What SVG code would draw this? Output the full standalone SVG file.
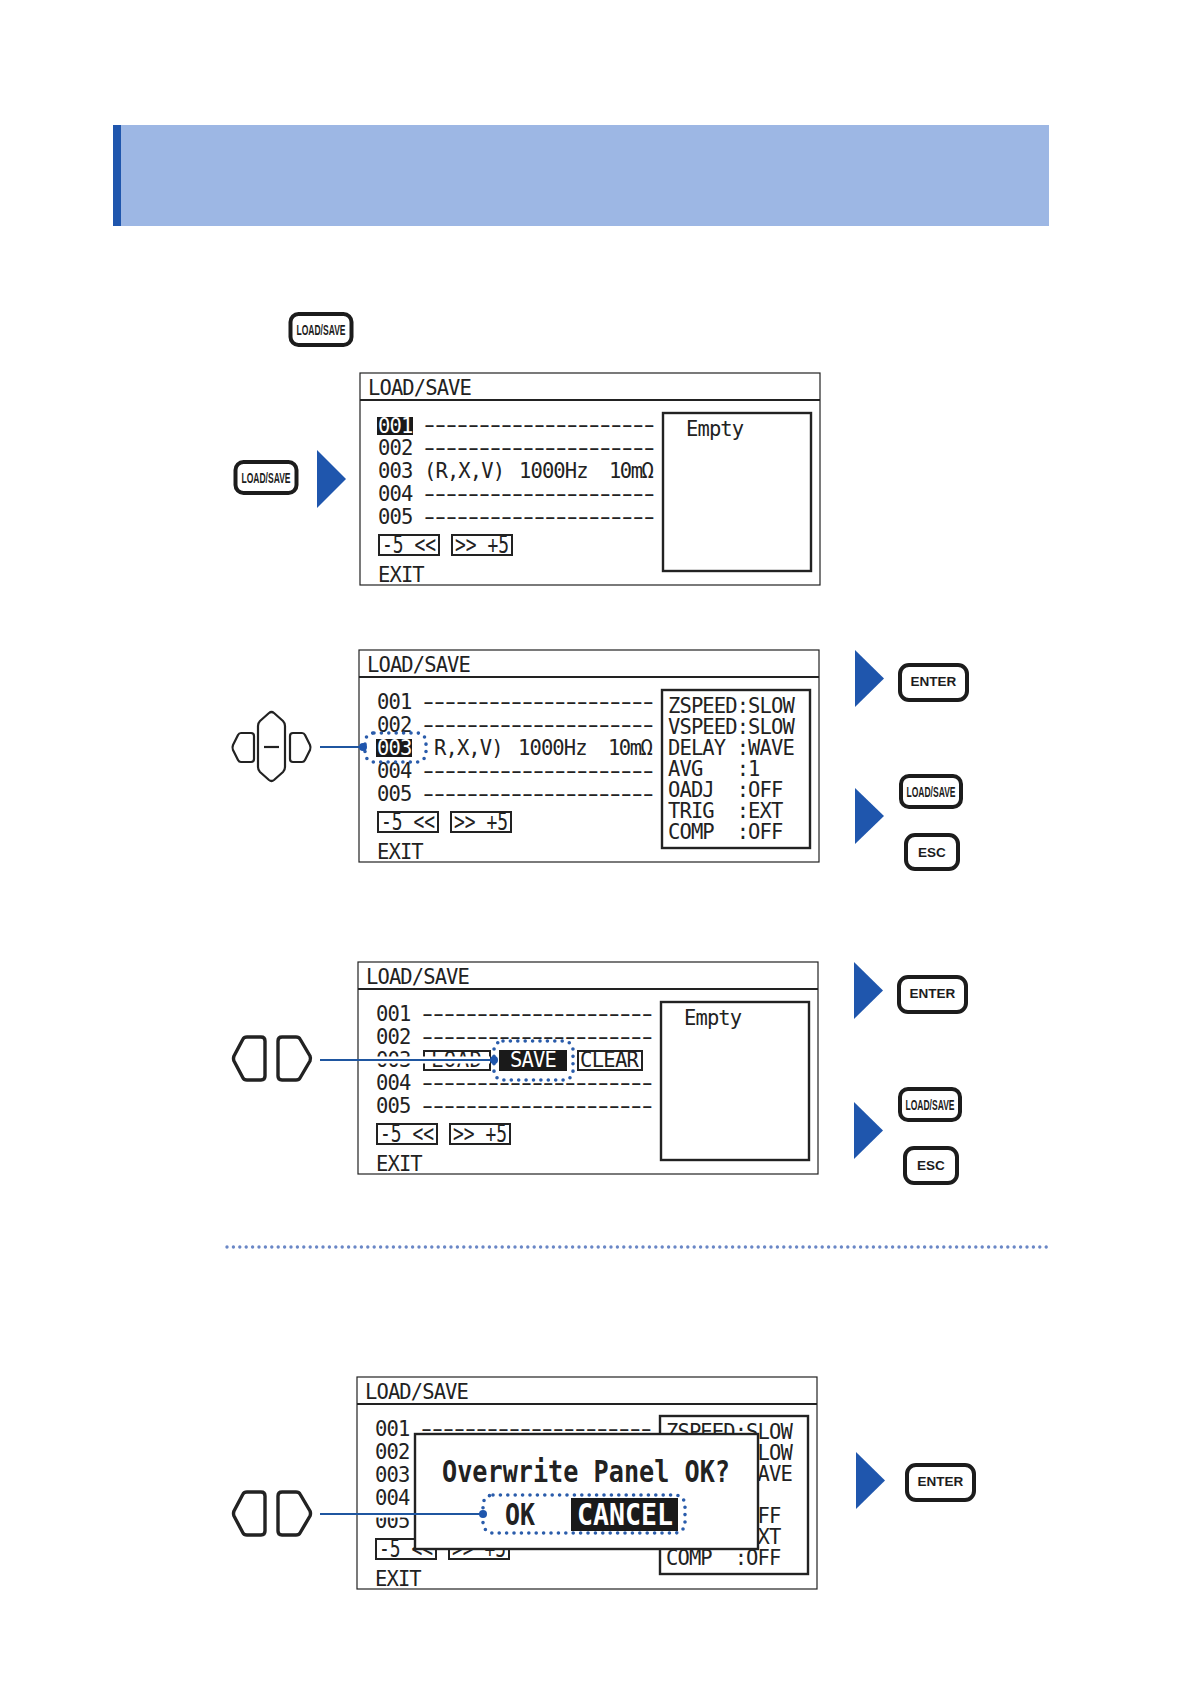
<svg xmlns="http://www.w3.org/2000/svg" width="1191" height="1684" viewBox="0 0 1191 1684">
<style>
text{font-family:"DejaVu Sans Mono","Liberation Mono",monospace;font-size:20.500px;letter-spacing:-.9px;fill:#222;white-space:pre}
.w{fill:#fff}
.dash{font-family:"Liberation Sans",Arial,sans-serif;font-size:33px;letter-spacing:0}
.btn{font-size:24px;letter-spacing:0}
.big{font-size:30px;font-weight:700;letter-spacing:0}
.pf{fill:#fff;stroke:#222;stroke-width:1.2}
.hl{stroke:#222;stroke-width:2.2}
.box{fill:#fff;stroke:#222;stroke-width:2.4}
.bb{fill:#fff;stroke:#222;stroke-width:2}
.k{fill:#fff;stroke:#1c1c1c;stroke-width:4}
.kt{font-family:"Liberation Sans",Arial,sans-serif;font-weight:700;text-anchor:middle;fill:#1c1c1c;font-size:13.500px;letter-spacing:0}
.kl{font-size:14.500px}
.a{fill:#1f56ad}
.pad{fill:#fff;stroke:#222;stroke-width:2.2;stroke-linejoin:round}
.pad3{fill:#fff;stroke:#222;stroke-width:3.4;stroke-linejoin:round}
.dot{fill:#fff;stroke:#2a5cab;stroke-width:3.6;stroke-dasharray:0 7.4;stroke-linecap:round}
.dotn{fill:none;stroke:#2a5cab;stroke-width:3.6;stroke-dasharray:0 7.4;stroke-linecap:round}
.lead{stroke:#1f56a0;stroke-width:2;fill:none}
.halo{stroke:#fff;stroke-width:7;fill:none}
.d{fill:#1f56ad}
</style>
<g id="header"><rect x="113" y="125" width="936" height="101" fill="#9db7e4"/><rect x="113" y="125" width="8" height="101" fill="#1f56ad"/></g>
<g id="key-top"><rect class="k" x="290.500" y="314" width="61" height="31" rx="8"/><text class="kt kl" x="321" y="335" textLength="49" lengthAdjust="spacingAndGlyphs">LOAD/SAVE</text></g>

<g id="panel1" transform="translate(360 373)">
<rect class="pf" width="460" height="212"/><line class="hl" x1="0" y1="27" x2="460" y2="27"/>
<text x="8" y="22">LOAD/SAVE</text>
<rect x="17" y="44" width="36" height="18" fill="#1a1a1a"/><text class="w" x="18" y="60">001</text><text class="dash" transform="translate(64 59) scale(1 .65)">---------------------</text>
<text x="18" y="82">002</text><text class="dash" transform="translate(64 82) scale(1 .65)">---------------------</text>
<text x="18" y="105">003</text><text x="64" y="105">(R,X,V)</text><text x="159" y="105">1000Hz</text><text x="249" y="105" textLength="44">10mΩ</text>
<text x="18" y="128">004</text><text class="dash" transform="translate(64 128) scale(1 .65)">---------------------</text>
<text x="18" y="151">005</text><text class="dash" transform="translate(64 151) scale(1 .65)">---------------------</text>
<rect class="bb" x="19" y="162" width="60" height="20"/><text class="btn" x="22" y="180" textLength="54" lengthAdjust="spacingAndGlyphs">-5 &lt;&lt;</text>
<rect class="bb" x="92" y="162" width="60" height="20"/><text class="btn" x="95" y="180" textLength="54" lengthAdjust="spacingAndGlyphs">&gt;&gt; +5</text>
<text x="18" y="209">EXIT</text>
<rect class="box" x="303" y="40" width="148" height="158"/><text x="326" y="63">Empty</text>
</g>
<g id="key-load1"><rect class="k" x="235.500" y="462" width="61" height="31" rx="8"/><text class="kt kl" x="266" y="483" textLength="49" lengthAdjust="spacingAndGlyphs">LOAD/SAVE</text></g>
<polygon class="a" points="317,450 346,479 317,508"/>

<g id="panel2" transform="translate(359 650)">
<rect class="pf" width="460" height="212"/><line class="hl" x1="0" y1="27" x2="460" y2="27"/>
<text x="8" y="22">LOAD/SAVE</text>
<text x="18" y="59">001</text><text class="dash" transform="translate(64 59) scale(1 .65)">---------------------</text>
<text x="18" y="82">002</text><text class="dash" transform="translate(64 82) scale(1 .65)">---------------------</text>
<text x="18" y="128">004</text><text class="dash" transform="translate(64 128) scale(1 .65)">---------------------</text>
<text x="18" y="151">005</text><text class="dash" transform="translate(64 151) scale(1 .65)">---------------------</text>
<rect class="dot" x="6" y="83" width="61" height="29" rx="9"/>
<rect x="17" y="89" width="36" height="18" fill="#1a1a1a"/><text class="w" x="18" y="105">003</text>
<text x="75" y="105">R,X,V)</text><text x="159" y="105">1000Hz</text><text x="249" y="105" textLength="44">10mΩ</text>
<rect class="bb" x="19" y="162" width="60" height="20"/><text class="btn" x="22" y="180" textLength="54" lengthAdjust="spacingAndGlyphs">-5 &lt;&lt;</text>
<rect class="bb" x="92" y="162" width="60" height="20"/><text class="btn" x="95" y="180" textLength="54" lengthAdjust="spacingAndGlyphs">&gt;&gt; +5</text>
<text x="18" y="209">EXIT</text>
<rect class="box" x="303" y="40" width="148" height="158"/>
<text x="309" y="63">ZSPEED:SLOW</text><text x="309" y="84">VSPEED:SLOW</text><text x="309" y="105">DELAY :WAVE</text><text x="309" y="126">AVG   :1</text><text x="309" y="147">OADJ  :OFF</text><text x="309" y="168">TRIG  :EXT</text><text x="309" y="189">COMP  :OFF</text>
</g>
<g id="pad-cross">
<path class="pad" d="M241 733H251Q254 733 254 736V759Q254 762 251 762H241Q239 762 238 760L233 750Q232 747.500 233 745L238 735Q239 733 241 733Z"/>
<path class="pad" d="M269 713Q271.500 711 274 713L283 721Q285 723 285 726V767Q285 770 283 772L274 780Q271.500 782 269 780L260 772Q258 770 258 767V726Q258 723 260 721Z"/><line class="pad" x1="264" y1="747" x2="279" y2="747"/>
<path class="pad" d="M293 733H302Q304 733 305 735L310 745Q311 747.500 310 750L305 760Q304 762 302 762H293Q290 762 290 759V736Q290 733 293 733Z"/>
</g>
<g id="key-enter1"><rect class="k" x="900" y="665" width="67" height="35" rx="9"/><text class="kt" x="933.500" y="686">ENTER</text></g>
<polygon class="a" points="855,650 884,678.500 855,707"/>
<polygon class="a" points="855,788 884,816 855,844"/>
<g id="key-load2"><rect class="k" x="901" y="776" width="60" height="31" rx="8"/><text class="kt kl" x="931" y="797" textLength="49" lengthAdjust="spacingAndGlyphs">LOAD/SAVE</text></g>
<g id="key-esc1"><rect class="k" x="906" y="835" width="52" height="34" rx="9"/><text class="kt" x="932" y="857">ESC</text></g>

<g id="panel3" transform="translate(358 962)">
<rect class="pf" width="460" height="212"/><line class="hl" x1="0" y1="27" x2="460" y2="27"/>
<text x="8" y="22">LOAD/SAVE</text>
<text x="18" y="59">001</text><text class="dash" transform="translate(64 59) scale(1 .65)">---------------------</text>
<text x="18" y="82">002</text><text class="dash" transform="translate(64 82) scale(1 .65)">---------------------</text>
<text x="18" y="105">003</text>
<text x="18" y="128">004</text><text class="dash" transform="translate(64 128) scale(1 .65)">---------------------</text>
<text x="18" y="151">005</text><text class="dash" transform="translate(64 151) scale(1 .65)">---------------------</text>
<rect class="bb" x="66" y="89" width="66" height="19"/><text x="73" y="105" textLength="50">LOAD</text>
<rect class="dot" x="136" y="79" width="79" height="39" rx="9"/>
<rect x="141" y="88" width="68" height="21" fill="#1a1a1a"/><text class="w" x="152" y="105" textLength="46">SAVE</text>
<rect class="bb" x="220" y="89" width="64" height="19"/><text x="222" y="105" textLength="58">CLEAR</text>
<rect class="bb" x="19" y="162" width="60" height="20"/><text class="btn" x="22" y="180" textLength="54" lengthAdjust="spacingAndGlyphs">-5 &lt;&lt;</text>
<rect class="bb" x="92" y="162" width="60" height="20"/><text class="btn" x="95" y="180" textLength="54" lengthAdjust="spacingAndGlyphs">&gt;&gt; +5</text>
<text x="18" y="209">EXIT</text>
<rect class="box" x="303" y="40" width="148" height="158"/><text x="326" y="63">Empty</text>
</g>
<g id="pad-lr1">
<path class="pad3" d="M247 1037H261Q265 1037 265 1041V1076Q265 1080 261 1080H247Q244 1080 243 1078L234 1061Q233 1058.500 234 1056L243 1039Q244 1037 247 1037Z"/>
<path class="pad3" d="M282 1037H296Q299 1037 300 1039L310 1056Q311 1058.500 310 1061L300 1078Q299 1080 296 1080H282Q278 1080 278 1076V1041Q278 1037 282 1037Z"/>
</g>
<g id="key-enter2"><rect class="k" x="899" y="977" width="67" height="35" rx="9"/><text class="kt" x="932.500" y="998">ENTER</text></g>
<polygon class="a" points="854,962 883,990.500 854,1019"/>
<polygon class="a" points="854,1102 883,1130.500 854,1159"/>
<g id="key-load3"><rect class="k" x="900" y="1089" width="60" height="31" rx="8"/><text class="kt kl" x="930" y="1110" textLength="49" lengthAdjust="spacingAndGlyphs">LOAD/SAVE</text></g>
<g id="key-esc2"><rect class="k" x="905" y="1148" width="52" height="35" rx="9"/><text class="kt" x="931" y="1170">ESC</text></g>

<line id="separator" x1="227" y1="1247" x2="1049" y2="1247" stroke="#6a87c6" stroke-width="3.4" stroke-linecap="round" stroke-dasharray="0 6.400"/>

<g id="panel4" transform="translate(357 1377)">
<rect class="pf" width="460" height="212"/><line class="hl" x1="0" y1="27" x2="460" y2="27"/>
<text x="8" y="22">LOAD/SAVE</text>
<text x="18" y="59">001</text><text class="dash" transform="translate(64 59) scale(1 .65)">---------------------</text>
<text x="18" y="82">002</text>
<text x="18" y="105">003</text>
<text x="18" y="128">004</text>
<text x="18" y="151">005</text>
<rect class="bb" x="19" y="162" width="60" height="20"/><text class="btn" x="22" y="180" textLength="54" lengthAdjust="spacingAndGlyphs">-5 &lt;&lt;</text>
<rect class="bb" x="92" y="162" width="60" height="20"/><text class="btn" x="95" y="180" textLength="54" lengthAdjust="spacingAndGlyphs">&gt;&gt; +5</text>
<text x="18" y="209">EXIT</text>
<rect class="box" x="303" y="39" width="148" height="158"/>
<text x="309" y="62">ZSPEED:SLOW</text><text x="309" y="83">VSPEED:SLOW</text><text x="309" y="104">DELAY :WAVE</text><text x="309" y="125">AVG   :1</text><text x="309" y="146">OADJ  :OFF</text><text x="309" y="167">TRIG  :EXT</text><text x="309" y="188">COMP  :OFF</text>
<rect class="box" x="58" y="57" width="343" height="115"/>
<text class="big" x="85" y="105" textLength="288" lengthAdjust="spacingAndGlyphs">Overwrite Panel OK?</text>
<rect class="dotn" x="126" y="118" width="202" height="38" rx="10"/>
<text class="big" x="148" y="148" textLength="30" lengthAdjust="spacingAndGlyphs">OK</text>
<rect x="214" y="121" width="107" height="33" fill="#1a1a1a"/><text class="big w" x="220" y="148" textLength="96" lengthAdjust="spacingAndGlyphs">CANCEL</text>
</g>
<g id="pad-lr2">
<path class="pad3" d="M247 1492H261Q265 1492 265 1496V1531Q265 1535 261 1535H247Q244 1535 243 1533L234 1516Q233 1513.500 234 1511L243 1494Q244 1492 247 1492Z"/>
<path class="pad3" d="M282 1492H296Q299 1492 300 1494L310 1511Q311 1513.500 310 1516L300 1533Q299 1535 296 1535H282Q278 1535 278 1531V1496Q278 1492 282 1492Z"/>
</g>
<g id="key-enter3"><rect class="k" x="907" y="1465" width="67" height="35" rx="9"/><text class="kt" x="940.500" y="1486">ENTER</text></g>
<polygon class="a" points="856,1452 885,1480.500 856,1509"/>

<g id="connectors">
<line class="lead" x1="320" y1="747" x2="363" y2="747"/><circle class="d" cx="363" cy="747" r="4"/>
<line class="halo" x1="370" y1="1060" x2="490" y2="1060"/><line class="lead" x1="320" y1="1060" x2="494" y2="1060"/><circle class="d" cx="494" cy="1060" r="4"/>
<line class="halo" x1="370" y1="1514" x2="413" y2="1514"/><line class="lead" x1="320" y1="1514" x2="483" y2="1514"/><circle class="d" cx="483" cy="1514" r="4"/>
</g>
</svg>
